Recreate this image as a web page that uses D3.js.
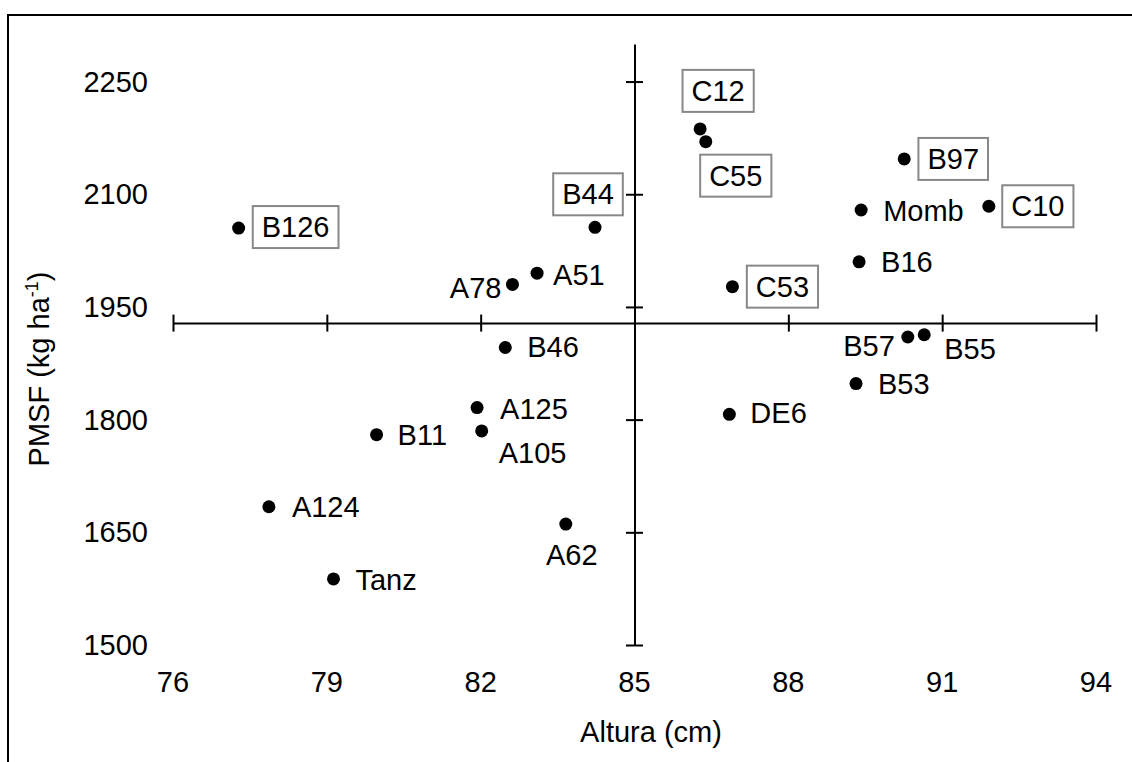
<!DOCTYPE html>
<html>
<head>
<meta charset="utf-8">
<script src="https://cdn.jsdelivr.net/npm/d3@7"></script>
<style>
  body { margin: 0; background: #fff; }
  text { font-family: Arial, "Liberation Sans", sans-serif; font-size: 29px; fill: #000; }
</style>
</head>
<body>
<div id="chart"></div>
<script>
// genotypes, plant height (cm) and PMSF (kg/ha)
var names  = ['B126', 'B44', 'C12', 'C55', 'A51', 'A78', 'C53', 'B46', 'B97', 'Momb', 'C10',
              'B16', 'B57', 'B55', 'B53', 'DE6', 'A125', 'A105', 'A62', 'B11', 'A124', 'Tanz'];
var altura = [77.28, 84.23, 86.28, 86.39, 83.10, 82.62, 86.91, 82.48, 90.26, 89.42, 91.91,
              89.38, 90.33, 90.65, 89.32, 86.85, 81.93, 82.02, 83.66, 79.97, 77.87, 79.13];
var pmsf   = [2055, 2056, 2187, 2170, 1995, 1980, 1977, 1896, 2147, 2079, 2084,
              2010, 1910, 1913, 1848, 1807, 1816, 1785, 1661, 1780, 1684, 1588];
var boxed  = ['B126', 'B44', 'C12', 'C55', 'C53', 'B97', 'C10'];

var xTicks = [76, 79, 82, 85, 88, 91, 94];
var yTicks = [1500, 1650, 1800, 1950, 2100, 2250];
var xMean = 85, yMean = 1928.5;   // where the axes cross

// label placement relative to the dot: [dx, dy, anchor]; boxed ones give the box centre
var labelPos = {
  'B126': [57, -1], 'B44': [-7, -33], 'C12': [18, -38], 'C55': [30, 34],
  'C53': [50, 0], 'B97': [49, 0], 'C10': [49, 0],
  'A51': [16, 12, 'start'], 'A78': [-11, 14, 'end'], 'B46': [22, 9, 'start'],
  'Momb': [22, 11, 'start'], 'B16': [22, 10, 'start'], 'B57': [-13, 19, 'end'],
  'B55': [20, 24, 'start'], 'B53': [22, 10, 'start'], 'DE6': [21, 9, 'start'],
  'A125': [23, 11, 'start'], 'A105': [17, 32, 'start'], 'A62': [6, 41, 'middle'],
  'B11': [21, 10, 'start'], 'A124': [23, 10, 'start'], 'Tanz': [22, 11, 'start']
};

var width = 1132, height = 762;

var svg = d3.select("#chart").append("svg")
    .attr("width", width)
    .attr("height", height);

// outer frame (runs off the right and bottom edges)
svg.append("rect")
    .attr("x", 8).attr("y", 15)
    .attr("width", 1140).attr("height", 760)
    .attr("fill", "none")
    .attr("stroke", "#000")
    .attr("stroke-width", 2);

var x = d3.scaleLinear().domain([76, 94]).range([173, 1096]);
var y = d3.scaleLinear().domain([1500, 2300]).range([645, 44]);

var xAxis = d3.axisBottom(x).tickValues(xTicks).tickSize(8.5).tickSizeOuter(0).tickFormat("");
var yAxis = d3.axisLeft(y).tickValues(yTicks).tickSize(8.5).tickSizeOuter(0).tickFormat("");

var gx = svg.append("g")
    .attr("transform", "translate(0," + y(yMean) + ")")
    .call(xAxis);
gx.selectAll(".tick line").attr("y1", -8.5);

var gy = svg.append("g")
    .attr("transform", "translate(" + x(xMean) + ",0)")
    .call(yAxis);
gy.selectAll(".tick line").attr("x1", 8.5);

svg.selectAll(".domain, .tick line")
    .attr("stroke", "#000")
    .attr("stroke-width", 2);

// tick labels sit at the margins, not on the axes
svg.append("g").selectAll("text")
    .data(xTicks)
    .enter().append("text")
      .attr("x", function(d) { return x(d); })
      .attr("y", 692)
      .attr("text-anchor", "middle")
      .text(function(d) { return d; });

svg.append("g").selectAll("text")
    .data(yTicks)
    .enter().append("text")
      .attr("x", 148)
      .attr("y", function(d) { return y(d) + 10; })
      .attr("text-anchor", "end")
      .text(function(d) { return d; });

// axis titles
svg.append("text")
    .attr("x", 651).attr("y", 742)
    .attr("text-anchor", "middle")
    .text("Altura (cm)");

var yt = svg.append("text")
    .attr("transform", "translate(49,369) rotate(-90)")
    .attr("text-anchor", "middle");
yt.append("tspan").text("PMSF (kg ha");
yt.append("tspan").attr("dy", -11).style("font-size", "18px").text("-1");
yt.append("tspan").attr("dy", 11).text(")");

var points = names.map(function(n, i) { return {name: n, x: altura[i], y: pmsf[i]}; });

svg.append("g").selectAll("circle")
    .data(points)
    .enter().append("circle")
      .attr("cx", function(d) { return x(d.x); })
      .attr("cy", function(d) { return y(d.y); })
      .attr("r", 6.5)
      .attr("fill", "#000");

var lab = svg.append("g").selectAll("g")
    .data(points)
    .enter().append("g");

lab.each(function(d) {
  var g = d3.select(this);
  var p = labelPos[d.name];
  var px = x(d.x) + p[0], py = y(d.y) + p[1];
  if (boxed.indexOf(d.name) >= 0) {
    var rect = g.append("rect");
    var t = g.append("text")
        .attr("x", px).attr("y", py + 10)
        .attr("text-anchor", "middle")
        .text(d.name);
    var w = t.node().getBBox().width + 18;
    rect.attr("x", px - w / 2).attr("y", py - 21)
        .attr("width", w).attr("height", 42)
        .attr("fill", "#fff")
        .attr("stroke", "#888")
        .attr("stroke-width", 2);
  } else {
    g.append("text")
        .attr("x", px).attr("y", py)
        .attr("text-anchor", p[2])
        .text(d.name);
  }
});
</script>
</body>
</html>
